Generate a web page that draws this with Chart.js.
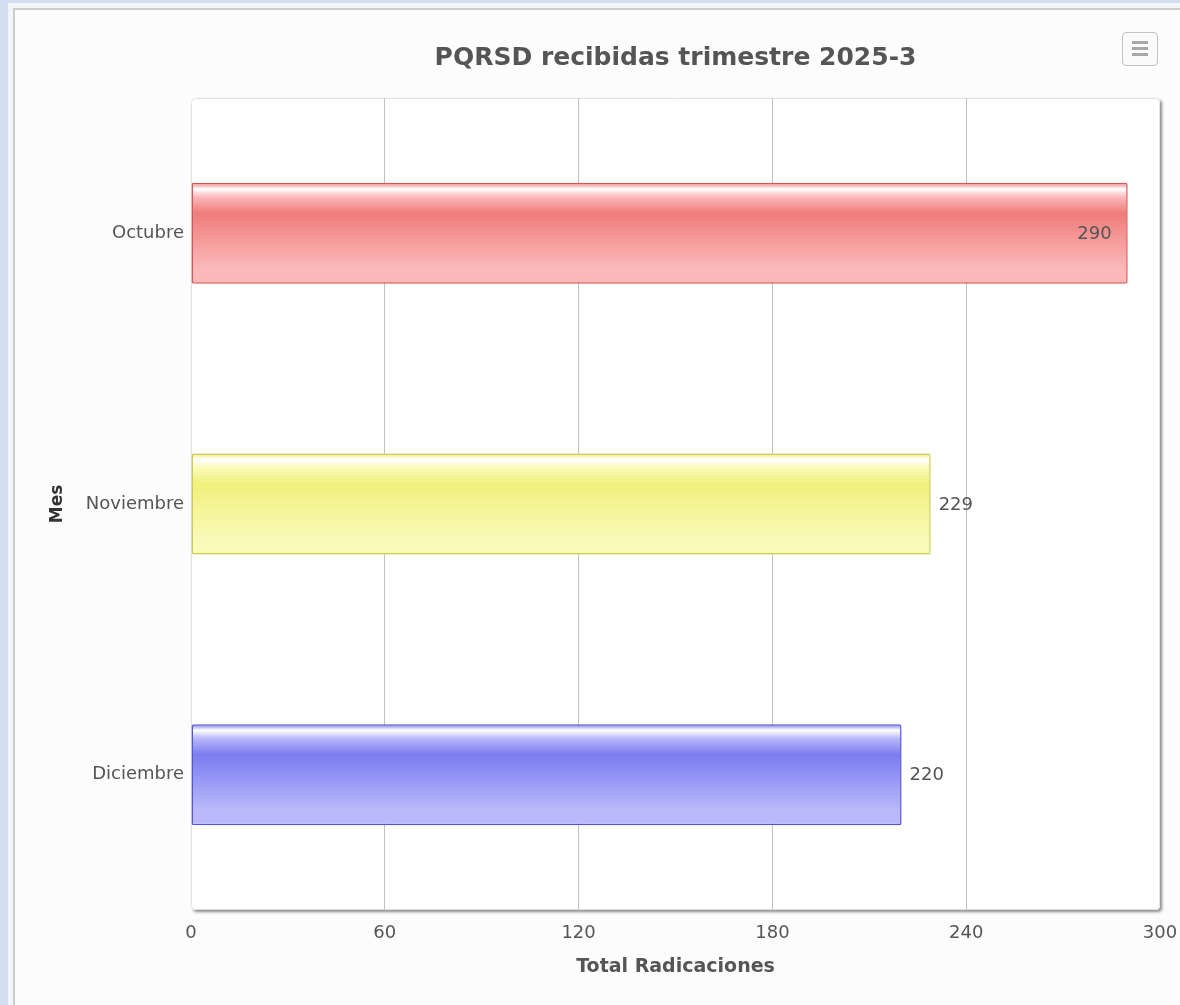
<!DOCTYPE html>
<html>
<head>
<meta charset="utf-8">
<script src="https://cdn.jsdelivr.net/npm/chart.js@4"></script>
<style>
    html, body { margin: 0; padding: 0; width: 1180px; height: 1005px; overflow: hidden; background: #d3dff1; }
    .box {
        position: absolute; left: 8px; top: 3px; width: 1200px; height: 1100px;
        background: #fcfcfc; border: 5px solid #f2f6fb; box-sizing: border-box;
    }
    .box::before {
        content: ''; position: absolute; left: 0; top: 0; right: 0; bottom: 0;
        border-left: 2px solid #cdcdcd; border-top: 2px solid #cdcdcd;
    }
    .menu {
        position: absolute; left: 1122px; top: 32px; width: 34px; height: 32px;
        border: 1.5px solid #c4c4c4; border-radius: 4px; background: #fafafa;
    }
    .menu span {
        position: absolute; left: 9px; width: 16px; height: 3px; background: #a8a8a8;
    }
    #wrap { position: absolute; left: 0; top: 0; width: 1180px; height: 1005px; }
</style>
</head>
<body>
<div class="box"></div>
<div class="menu"><span style="top:8px"></span><span style="top:14px"></span><span style="top:20px"></span></div>
<div id="wrap"><canvas id="chart"></canvas></div>
<script>
// ── Datos ──
const MESES = ['Octubre', 'Noviembre', 'Diciembre'];
const TOTALES = [290, 229, 220];
const TICKS_X = [0, 60, 120, 180, 240, 300];

// ── Colores (base, claro, borde) ──
const BASE   = ['#ef7c7c', '#f0f07c', '#7c7cf0'];
const CLARO  = ['#fbb9b9', '#fafab9', '#b9b9fb'];
const BORDE  = ['#d85555', '#cccc50', '#5555d8'];

const FONT = 'Tahoma, "DejaVu Sans", Verdana, sans-serif';

function barGradient(ctx) {
    const chart = ctx.chart;
    const i = ctx.dataIndex;
    const y = chart.scales && chart.scales.y;
    if (!chart.chartArea || !y || isNaN(y.getPixelForValue(i))) return BASE[i];
    const center = y.getPixelForValue(i);
    const half = (chart.chartArea.height / MESES.length) * 0.373 / 2;
    const g = chart.ctx.createLinearGradient(0, center - half, 0, center + half);
    g.addColorStop(0, BASE[i]);
    g.addColorStop(0.06, '#ffffff');
    g.addColorStop(0.14, CLARO[i]);
    g.addColorStop(0.3, BASE[i]);
    g.addColorStop(0.85, CLARO[i]);
    g.addColorStop(1, CLARO[i]);
    return g;
}

// fondo del área de trazado con sombra
const plotBg = {
    id: 'plotBg',
    beforeDraw(chart) {
        const { ctx, chartArea: a } = chart;
        ctx.save();
        ctx.shadowColor = 'rgba(0,0,0,0.45)';
        ctx.shadowBlur = 3;
        ctx.shadowOffsetX = 2;
        ctx.shadowOffsetY = 2;
        ctx.fillStyle = '#ffffff';
        ctx.beginPath();
        ctx.roundRect(a.left, a.top, a.width, a.height, 4);
        ctx.fill();
        ctx.restore();
        ctx.save();
        ctx.strokeStyle = '#e2e2e2';
        ctx.lineWidth = 1;
        ctx.beginPath();
        ctx.roundRect(a.left + 0.5, a.top + 0.5, a.width - 1, a.height - 1, 4);
        ctx.stroke();
        ctx.restore();
    }
};

// etiquetas de valor al final de cada barra
const valueLabels = {
    id: 'valueLabels',
    afterDatasetsDraw(chart) {
        const { ctx, chartArea: a } = chart;
        const meta = chart.getDatasetMeta(0);
        ctx.save();
        ctx.font = '18px ' + FONT;
        ctx.fillStyle = '#555555';
        ctx.textBaseline = 'middle';
        meta.data.forEach((bar, i) => {
            const txt = String(TOTALES[i]);
            const w = ctx.measureText(txt).width;
            if (bar.x + 8 + w > a.right - 4) {
                ctx.textAlign = 'right';
                ctx.fillText(txt, bar.x - 16, bar.y + 1);
            } else {
                ctx.textAlign = 'left';
                ctx.fillText(txt, bar.x + 8, bar.y + 1);
            }
        });
        ctx.restore();
    }
};

new Chart(document.getElementById('chart'), {
    type: 'bar',
    data: {
        labels: MESES,
        datasets: [{
            data: TOTALES,
            backgroundColor: barGradient,
            borderColor: BORDE,
            borderWidth: 1.5,
            borderRadius: 2,
            borderSkipped: false,
            barPercentage: 0.373,
            categoryPercentage: 1,
        }]
    },
    options: {
        indexAxis: 'y',
        responsive: true,
        maintainAspectRatio: false,
        animation: false,
        layout: { padding: { top: 0, right: 20, left: 0, bottom: 0 } },
        plugins: {
            legend: { display: false },
            tooltip: { enabled: false },
            title: {
                display: true,
                text: 'PQRSD recibidas trimestre 2025-3',
                fullSize: false,
                color: '#555555',
                font: { family: FONT, size: 25, weight: 'bold', lineHeight: 1.2 },
                padding: { top: 43, bottom: 25 },
            }
        },
        scales: {
            x: {
                min: 0,
                max: 300,
                afterBuildTicks: s => { s.ticks = TICKS_X.map(v => ({ value: v })); },
                afterFit: s => { s.height = 95; s.paddingLeft = 0; s.paddingRight = 0; },
                grid: {
                    drawTicks: false,
                    color: c => (c.tick && (c.tick.value === 0 || c.tick.value === 300)) ? 'rgba(0,0,0,0)' : '#c2c2c2',
                    lineWidth: 1,
                },
                border: { display: false },
                ticks: { color: '#555555', padding: 13, font: { family: FONT, size: 18 } },
                title: {
                    display: true,
                    text: 'Total Radicaciones',
                    color: '#555555',
                    font: { family: FONT, size: 19, weight: 'bold', lineHeight: 1.2 },
                    padding: { top: 0, bottom: 27 },
                }
            },
            y: {
                afterFit: s => { s.width = 191; },
                grid: { display: false, drawTicks: false },
                border: { display: false },
                ticks: { color: '#555555', padding: 7, font: { family: FONT, size: 18 } },
                title: {
                    display: true,
                    text: 'Mes',
                    color: '#333333',
                    font: { family: FONT, size: 17, weight: 'bold', lineHeight: 1.2 },
                    padding: { top: 47, bottom: 0 },
                }
            }
        }
    },
    plugins: [plotBg, valueLabels]
});
</script>
</body>
</html>
